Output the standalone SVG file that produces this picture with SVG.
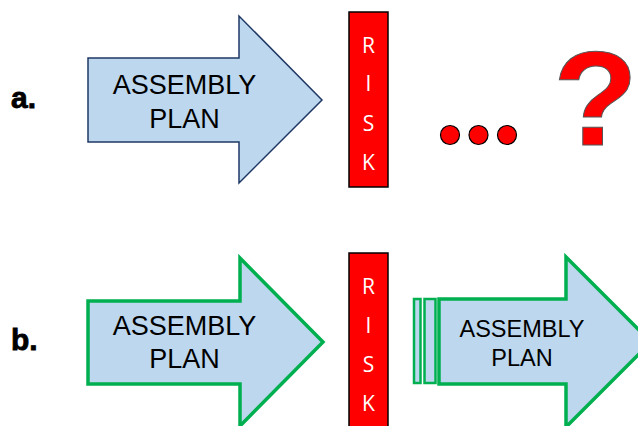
<svg xmlns="http://www.w3.org/2000/svg" width="638" height="426" viewBox="0 0 638 426">
  <style>
    .plan { fill: #bdd7ee; stroke-linejoin: miter; }
    .plan-a { stroke: #1f3864; stroke-width: 1.5; }
    .plan-b { stroke: #00b050; stroke-width: 3.5; }
    .stripe { fill: #bdd7ee; stroke: #00b050; stroke-width: 2.5; }
    .plan-text { font-family: "Liberation Sans", Arial, sans-serif; fill: #000; text-anchor: middle; }
    .label { font-family: "Liberation Sans", Arial, sans-serif; font-weight: bold; font-size: 30px; fill: #000; stroke: #000; stroke-width: 0.8; }
    .risk-box { fill: #ff0000; stroke: #000; stroke-width: 1.5; }
    .risk-text { font-family: "Open Sans", "Liberation Sans", sans-serif; font-size: 21px; fill: #fff; text-anchor: middle; }
    .dot { fill: #ff0000; stroke: #000; stroke-width: 1.2; }
  </style>

  <!-- row a -->
  <g id="label-a">
    <text class="label" x="11" y="108">a.</text>
  </g>

  <g id="plan-a">
    <polygon class="plan plan-a" points="88,58 239,58 239,16 322,100 239,183 239,142 88,142"/>
    <text class="plan-text" x="184.5" y="94" font-size="27">ASSEMBLY</text>
    <text class="plan-text" x="184.5" y="128" font-size="27">PLAN</text>
  </g>

  <g id="risk-a">
    <rect class="risk-box" x="349" y="12" width="39" height="175"/>
    <text class="risk-text" x="368.5" y="53">R</text>
    <text class="risk-text" x="368.5" y="91">I</text>
    <text class="risk-text" x="368.5" y="131">S</text>
    <text class="risk-text" x="368.5" y="170">K</text>
  </g>

  <g id="ellipsis">
    <circle class="dot" cx="450" cy="135" r="9.5"/>
    <circle class="dot" cx="478.5" cy="135" r="9.5"/>
    <circle class="dot" cx="507" cy="135" r="9.5"/>
  </g>

  <g id="question">
    <text x="0" y="0" transform="translate(553,145) scale(1.04,1)" font-family="'Liberation Sans', Arial, sans-serif" font-weight="bold" font-size="134" fill="#ff0000" stroke="#555" stroke-width="1">?</text>
  </g>

  <!-- row b -->
  <g id="label-b">
    <text class="label" x="11" y="350">b.</text>
  </g>

  <g id="plan-b1">
    <polygon class="plan plan-b" points="88,301 240,301 240,258 323,342 240,426 240,384 88,384"/>
    <text class="plan-text" x="184.5" y="335" font-size="27">ASSEMBLY</text>
    <text class="plan-text" x="184.5" y="368" font-size="27">PLAN</text>
  </g>

  <g id="risk-b">
    <rect class="risk-box" x="349" y="253" width="39" height="180"/>
    <text class="risk-text" x="368.5" y="294">R</text>
    <text class="risk-text" x="368.5" y="333">I</text>
    <text class="risk-text" x="368.5" y="372">S</text>
    <text class="risk-text" x="368.5" y="411">K</text>
  </g>

  <g id="plan-b2">
    <rect class="stripe" x="414" y="299" width="6.5" height="84"/>
    <rect class="stripe" x="424.5" y="299" width="11" height="84"/>
    <polygon class="plan plan-b" points="439,299 566,299 566,257 651,342 566,427 566,384 439,384"/>
    <text class="plan-text" x="522" y="337" font-size="23.5">ASSEMBLY</text>
    <text class="plan-text" x="522" y="366" font-size="23.5">PLAN</text>
  </g>
</svg>
